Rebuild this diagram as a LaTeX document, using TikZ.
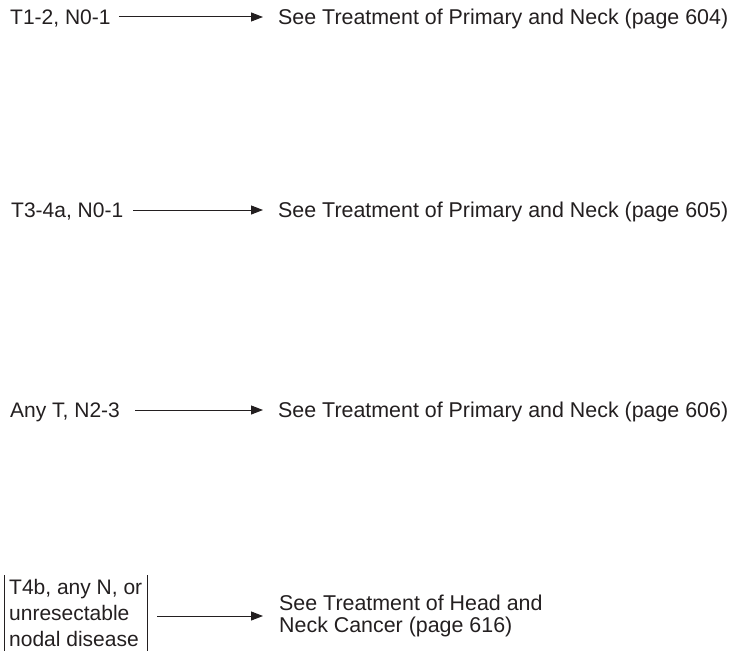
\documentclass[tikz,border=0pt]{standalone}
\usepackage{fontspec}
\setmainfont{Liberation Sans}
\usetikzlibrary{arrows.meta}
\definecolor{ink}{HTML}{231F20}
\begin{document}
\begin{tikzpicture}[x=1pt,y=-1pt,
  every node/.style={text=ink, font=\fontsize{21}{25}\selectfont},
  stage/.style={anchor=west, inner sep=0pt, text height=15pt, text depth=0pt},
  target/.style={anchor=west, inner ysep=0pt, inner xsep=15pt, text height=15pt, text depth=0pt,
                 font=\fontsize{21.4}{25}\selectfont},
  arr/.style={draw=ink, line width=1pt, -{Triangle[length=12pt,width=9pt]}}
]
\useasboundingbox (0,0) rectangle (746,650);

% early stage
\node[stage] (l1) at (10,17) {T1-2, N0-1};
\node[target] (r1) at (263,17) {See Treatment of Primary and Neck (page 604)};
\draw[arr] ([xshift=8pt]l1.east) -- (r1.west);

% locally advanced, node negative or limited
\node[stage] (l2) at (11,210) {T3-4a, N0-1};
\node[target] (r2) at (263,210) {See Treatment of Primary and Neck (page 605)};
\draw[arr] ([xshift=10pt]l2.east) -- (r2.west);

% nodal disease
\node[stage] (l3) at (10,410) {Any T, N2-3};
\node[target] (r3) at (263,410) {See Treatment of Primary and Neck (page 606)};
\draw[arr] ([xshift=15pt]l3.east) -- (r3.west);

% very advanced / unresectable
\node[anchor=north west, align=left, inner xsep=5pt, inner ysep=4.2pt,
      font=\fontsize{21}{26}\selectfont] (l4) at (4,575)
  {T4b, any N, or\\unresectable\\nodal disease};
\draw[ink, line width=1pt] (l4.north west) -- ++(0,80);
\draw[ink, line width=1pt] (l4.north east) -- ++(0,80);
\node[anchor=west, align=left, inner ysep=0pt, inner xsep=16pt,
      font=\fontsize{21.4}{22}\selectfont] (r4) at (263,616)
  {See Treatment of Head and\\Neck Cancer (page 616)};
\draw[arr] ([xshift=10pt]l4.east |- r4.west) -- (r4.west);
\end{tikzpicture}
\end{document}
